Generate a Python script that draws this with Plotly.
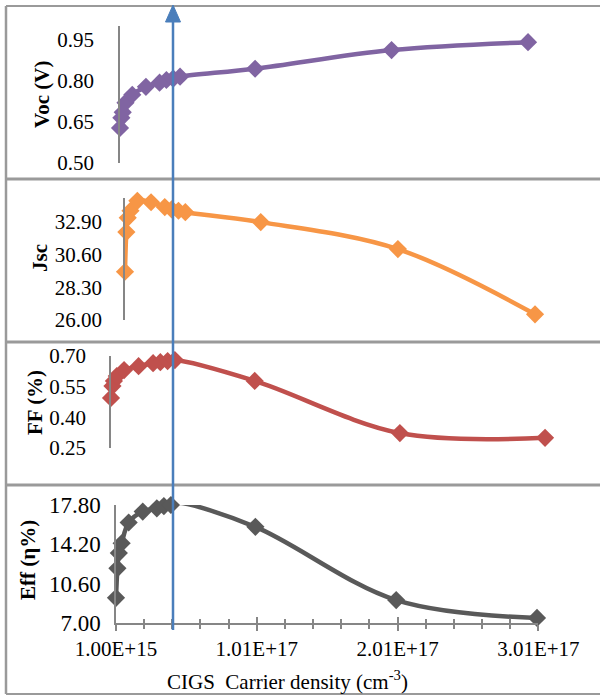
import plotly.graph_objects as go

# ---- data ----
carrier = [1e15, 2e15, 3e15, 5e15, 1e16, 2e16, 3e16, 3.5e16, 4e16, 4.5e16, 1e17, 2e17, 3e17]
voc = [0.628, 0.665, 0.685, 0.720, 0.749, 0.778, 0.793, 0.803, 0.808, 0.815, 0.844, 0.912, 0.941]
jsc = [29.4, 32.2, 33.2, 33.7, 34.4, 34.3, 33.96, 33.8, 33.7, 33.6, 32.9, 31.0, 26.4]
ff = [0.495, 0.553, 0.578, 0.602, 0.631, 0.650, 0.665, 0.670, 0.675, 0.680, 0.578, 0.323, 0.300]
eff = [9.3, 12.0, 13.4, 14.3, 16.2, 17.2, 17.5, 17.7, 17.8, 18.0, 15.8, 9.1, 7.46]

voc_ticks = [0.50, 0.65, 0.80, 0.95]
jsc_ticks = [26.00, 28.30, 30.60, 32.90]
ff_ticks = [0.25, 0.40, 0.55, 0.70]
eff_ticks = [7.00, 10.60, 14.20, 17.80]
x_tickvals = [1e15, 1.01e17, 2.01e17, 3.01e17]
x_ticktext = ["1.00E+15", "1.01E+17", "2.01E+17", "3.01E+17"]

W, H = 600, 696
FONT = "Liberation Serif"
AXC = "#868686"


def px(x):
    return x / W


def py(y):
    return 1 - y / H


fig = go.Figure()

series = [
    (voc, "#8064A2", "x", "y"),
    (jsc, "#F79646", "x2", "y2"),
    (ff, "#C0504D", "x3", "y3"),
    (eff, "#595959", "x4", "y4"),
]
for vals, col, xa, ya in series:
    fig.add_trace(go.Scatter(
        x=carrier, y=vals, mode="lines+markers",
        line=dict(color=col, width=4.5, shape="spline", smoothing=1.0),
        marker=dict(symbol="diamond", size=14, color=col),
        xaxis=xa, yaxis=ya, cliponaxis=False, hoverinfo="skip",
    ))
# helper empty trace for cross-tick overlay axis
fig.add_trace(go.Scatter(x=[None], y=[None], xaxis="x5", yaxis="y4", hoverinfo="skip"))

xr = [1e15, 3.01e17]
hidden_x = dict(visible=False, range=xr, automargin=False)

ydef = dict(showline=True, linecolor=AXC, linewidth=1.5, ticks="", showgrid=False,
            zeroline=False, tickformat=".2f", automargin=False,
            tickfont=dict(family=FONT, size=21, color="#000"))

fig.update_layout(
    width=W, height=H, margin=dict(l=0, r=0, t=0, b=0, pad=0),
    paper_bgcolor="white", plot_bgcolor="rgba(0,0,0,0)", showlegend=False,
    xaxis=dict(hidden_x, domain=[px(120), px(529.4)], anchor="y"),
    xaxis2=dict(hidden_x, domain=[px(125), px(536.4)], anchor="y2"),
    xaxis3=dict(hidden_x, domain=[px(111), px(546.5)], anchor="y3"),
    xaxis4=dict(domain=[px(116), px(538.4)], anchor="y4", range=xr, automargin=False,
                showline=True, linecolor=AXC, linewidth=1.5, showgrid=False, zeroline=False,
                tickmode="array", tickvals=x_tickvals, ticktext=x_ticktext,
                ticks="outside", ticklen=6, tickwidth=1.5, tickcolor=AXC,
                ticklabelstandoff=0,
                minor=dict(ticks="outside", ticklen=4, tickwidth=1.5, tickcolor=AXC,
                           tick0=1e15, dtick=2e16, showgrid=False),
                tickfont=dict(family=FONT, size=21, color="#000")),
    xaxis5=dict(domain=[px(116), px(538.4)], anchor="y4", overlaying="x4", range=xr,
                automargin=False,
                showline=False, showgrid=False, zeroline=False, showticklabels=False,
                tickmode="array", tickvals=x_tickvals,
                ticks="inside", ticklen=6, tickwidth=1.5, tickcolor=AXC,
                minor=dict(ticks="inside", ticklen=4, tickwidth=1.5, tickcolor=AXC,
                           tick0=1e15, dtick=2e16, showgrid=False)),
    yaxis=dict(ydef, domain=[py(163), py(26)], anchor="x", range=[0.5, 1.0],
               tickvals=voc_ticks, ticklabelstandoff=20),
    yaxis2=dict(ydef, domain=[py(320), py(198)], anchor="x2", range=[26, 34.6],
                tickvals=jsc_ticks, ticklabelstandoff=17),
    yaxis3=dict(ydef, domain=[py(448), py(356)], anchor="x3", range=[0.25, 0.70],
                tickvals=ff_ticks, ticklabelstandoff=19),
    yaxis4=dict(ydef, domain=[py(623), py(505)], anchor="x4", range=[7, 17.8],
                tickvals=eff_ticks, ticklabelstandoff=9,
                tickfont=dict(family=FONT, size=23, color="#000")),
)

titles = [
    ("<b>Voc (V)</b>", 42, 95),
    ("<b>Jsc</b>", 40, 258),
    ("<b>FF (%)</b>", 35, 403),
    ("<b>Eff (η%)</b>", 28, 560),
]
for txt, x, y in titles:
    fig.add_annotation(text=txt, x=px(x), y=py(y), xref="paper", yref="paper",
                       textangle=-90, showarrow=False, xanchor="center", yanchor="middle",
                       font=dict(family=FONT, size=21, color="#000"))

fig.add_annotation(text="CIGS  Carrier density (cm<sup>-3</sup>)", x=px(287), y=py(680),
                   xref="paper", yref="paper", showarrow=False,
                   xanchor="center", yanchor="middle",
                   font=dict(family=FONT, size=21, color="#000"))

# frame lines
BORDER = "#9A9A9A"
frame = [
    (6, 6, 600, 6, 2),      # top
    (6, 6, 6, 694, 2.5),    # left
    (6, 694, 600, 694, 2),  # bottom
    (6, 179, 600, 179, 3),
    (6, 342, 600, 342, 3),
    (6, 485, 600, 485, 3),
]
for x0, y0, x1, y1, w in frame:
    fig.add_shape(type="line", xref="paper", yref="paper",
                  x0=px(x0), y0=py(y0), x1=px(x1), y1=py(y1),
                  line=dict(color=BORDER, width=w))

# blue marker arrow
BLUE = "#4A7EBB"
fig.add_shape(type="line", xref="paper", yref="paper",
              x0=px(173), y0=py(630), x1=px(173), y1=py(20),
              line=dict(color=BLUE, width=2.5))
fig.add_shape(type="path", xref="paper", yref="paper",
              path=f"M {px(173)},{py(5)} L {px(165.5)},{py(22)} L {px(180.5)},{py(22)} Z",
              fillcolor=BLUE, line=dict(color=BLUE, width=1))

fig.write_html("out.html", config={"displayModeBar": False},
               post_script="document.body.style.margin='0px';document.body.style.padding='0px';")
